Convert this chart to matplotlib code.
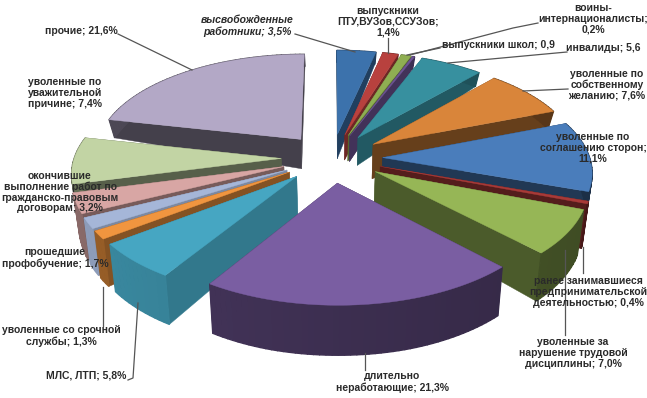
import numpy as np
import matplotlib
matplotlib.use('Agg')
import matplotlib.pyplot as plt

plt.rcParams['font.family'] = ['Liberation Sans', 'DejaVu Sans']

# доли, по часовой стрелке от 12 часов
values = [3.5, 1.4, 0.9, 0.2, 5.6, 7.6, 11.1, 0.4, 7.0, 21.3, 5.8, 1.3, 1.7, 3.2, 7.4, 21.6]
top_colors = ['#3C72AC', '#B8413E', '#8FAE52', '#6E5494', '#37909F', '#D9853A', '#4A7DBB', '#A83A38',
              '#96B656', '#7A5EA2', '#46A6C2', '#F0953F', '#A5B6D8', '#D8A6A4', '#C2D4A4', '#B3A8C6']
side_mult = [0.55, 0.6, 0.6, 0.6, 0.62, 0.47, 0.45, 0.5, 0.5, 0.5, 0.72, 0.55, 0.75, 0.55, 0.45, 0.38]

labels = [
    ('высвобожденные\nработники; 3,5%', 247, 26, 'italic'),
    ('выпускники\nПТУ,ВУЗов,ССУЗов;\n1,4%', 388, 22, 'normal'),
    ('воины-\nинтернационалисты;\n0,2%', 593, 19, 'normal'),
    ('выпускники школ; 0,9', 498, 45, 'normal'),
    ('инвалиды; 5,6', 603, 48, 'normal'),
    ('уволенные по\nсобственному\nжеланию; 7,6%', 607, 85, 'normal'),
    ('уволенные по\nсоглашению сторон;\n11,1%', 593, 148, 'normal'),
    ('ранее занимавшиеся\nпредпринимательской\nдеятельностью; 0,4%', 588, 292, 'normal'),
    ('уволенные за\nнарушение трудовой\nдисциплины; 7,0%', 573, 353, 'normal'),
    ('длительно\nнеработающие; 21,3%', 392, 382, 'normal'),
    ('МЛС, ЛТП; 5,8%', 86, 376, 'normal'),
    ('уволенные со срочной\nслужбы; 1,3%', 61, 336, 'normal'),
    ('прошедшие\nпрофобучение; 1,7%', 55, 258, 'normal'),
    ('окончившие\nвыполнение работ по\nгражданско-правовым\nдоговорам; 3,2%', 60, 192, 'normal'),
    ('уволенные по\nуважительной\nпричине; 7,4%', 65, 93, 'normal'),
    ('прочие; 21,6%', 81, 31, 'normal'),
]
leaders = [
    [(118, 34), (192, 70)],
    [(295, 34), (355, 52)],
    [(388, 38), (388, 53)],
    [(538, 23), (513, 28), (410, 55)],
    [(440, 48), (407, 55)],
    [(567, 52), (448, 63)],
    [(568, 89), (523, 91)],
    [(583, 247), (583, 273)],
    [(565, 250), (565, 335)],
    [(365, 353), (365, 370)],
    [(128, 380), (133, 378), (138, 303)],
    [(103, 287), (103, 326)],
]

cx, cy = 332, 158
rx, ry = 207, 100
k = 0.125
explode = 0.245


def project(X, Y):
    s = 1 / (1 + k * Y)
    return cx + rx * X * s, cy - ry * Y * s


def lower(x, Y):
    # нижняя грань: сдвиг вниз зависит от удалённости
    h = np.interp(Y, [-1.2, -0.5, -0.1, 0.1, 0.3, 1.2], [50, 46, 38, 38, 19, 12])
    return cx + (x - cx) * 0.975, h


def shade(c, m):
    rgb = np.array(matplotlib.colors.to_rgb(c))
    return tuple(np.clip(rgb * m, 0, 1))


fig = plt.figure(figsize=(6.47, 3.98), dpi=100)
ax = fig.add_axes([0, 0, 1, 1])
ax.set_xlim(0, 647)
ax.set_ylim(398, 0)
ax.axis('off')

edges = np.cumsum([0] + values) / sum(values) * 2 * np.pi
mids = (edges[:-1] + edges[1:]) / 2
order = np.argsort(-np.cos(mids))

for i in order:
    a0, a1, b = edges[i], edges[i + 1], mids[i]
    ox, oy = explode * np.sin(b), explode * np.cos(b)
    t = np.linspace(a0, a1, max(4, int((a1 - a0) * 40)))
    X = np.r_[ox, ox + np.sin(t)]
    Y = np.r_[oy, oy + np.cos(t)]
    px, py = project(X, Y)
    bx, h = lower(px, Y)
    by = py + h
    side = shade(top_colors[i], side_mult[i])
    # срезы от центра к краю
    for j in (1, len(px) - 1):
        ax.fill([px[0], px[j], bx[j], bx[0]], [py[0], py[j], by[j], by[0]], color=side, lw=0.3, zorder=2)
    # внешняя стенка
    for j in range(1, len(px) - 1):
        m = side_mult[i] * (1.12 - 0.25 * (px[j] - cx + rx) / (2 * rx))
        ax.fill([px[j], px[j + 1], bx[j + 1], bx[j]], [py[j], py[j + 1], by[j + 1], by[j]],
                color=shade(top_colors[i], m), lw=1.0, zorder=2)
    ax.fill(px, py, color=top_colors[i], lw=0.3, zorder=2)

for pts in leaders:
    ax.plot(*zip(*pts), color='#555555', lw=0.9, zorder=3)

for text, x, y, style in labels:
    ax.text(x, y, text, ha='center', va='center', fontsize=7.5, fontweight='bold', fontstyle=style,
            color='#2a2a2a', linespacing=1.08, zorder=4)

fig.savefig('out.png', dpi=100)
